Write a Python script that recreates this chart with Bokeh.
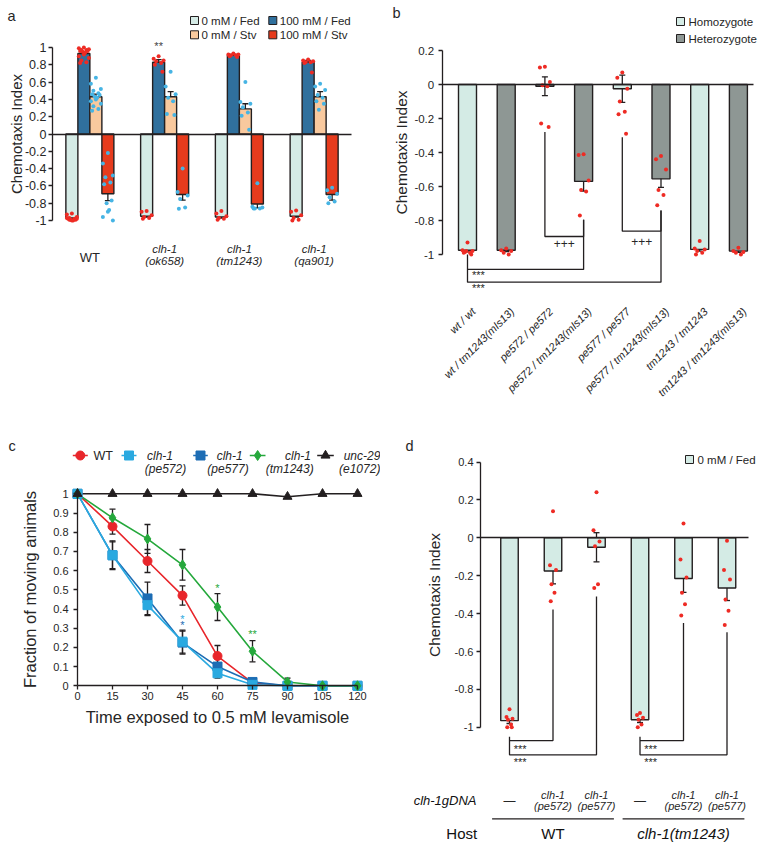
import math
from bokeh.plotting import figure
from bokeh.layouts import row, column
from bokeh.models import Range1d, LinearAxis, FixedTicker, ColumnDataSource, Whisker, TeeHead
from bokeh.core.properties import value
from bokeh.embed import file_html
from bokeh.resources import INLINE

FONT = "Liberation Sans"
INK = "#231f20"
TXT = "#262626"
RED_DOT = "#ee2b24"
BLUE_DOT = "#46b4e4"

# ============================ DATA ============================
# ---- panel a : chemotaxis of clh-1 alleles (4 conditions)
a_strain_line1 = ["WT", "clh-1", "clh-1", "clh-1"]
a_strain_line2 = ["", "(ok658)", "(tm1243)", "(qa901)"]
a_conditions = ["0 mM / Fed", "100 mM / Fed", "0 mM / Stv", "100 mM / Stv"]
a_colors = ["#d5ebe6", "#30709d", "#f9c99e", "#e63b1d"]
a_mean_fed0 = [-0.97, -0.95, -0.96, -0.95]
a_mean_fed100 = [0.93, 0.83, 0.91, 0.83]
a_mean_stv0 = [0.43, 0.43, 0.29, 0.43]
a_mean_stv100 = [-0.69, -0.70, -0.81, -0.70]
a_sem_fed0 = [0.01, 0.012, 0.012, 0.012]
a_sem_fed100 = [0.02, 0.03, 0.01, 0.02]
a_sem_stv0 = [0.03, 0.06, 0.06, 0.06]
a_sem_stv100 = [0.08, 0.065, 0.045, 0.065]
a_pts_fed0 = [
    [-0.92, -0.93, -0.96, -0.97, -0.98, -0.98, -0.99, -0.99, -1.0, -1.0, -0.97, -0.98, -0.99],
    [-0.89, -0.90, -0.94, -0.96, -0.97, -0.98],
    [-0.89, -0.92, -0.95, -0.97, -0.98, -0.99],
    [-0.885, -0.90, -0.94, -0.97, -0.99, -1.0],
]
a_pts_fed100 = [
    [1.0, 0.99, 0.98, 0.97, 0.97, 0.96, 0.96, 0.95, 0.94, 0.92, 0.90, 0.88, 0.85, 0.83, 0.82],
    [0.90, 0.87, 0.85, 0.84, 0.82, 0.80, 0.72],
    [0.93, 0.92, 0.92, 0.91, 0.91, 0.90, 0.89],
    [0.86, 0.85, 0.84, 0.83, 0.83, 0.82, 0.71],
]
a_pts_stv0 = [
    [0.65, 0.58, 0.52, 0.50, 0.47, 0.46, 0.45, 0.43, 0.42, 0.40, 0.38, 0.35, 0.32, 0.29, 0.27],
    [0.72, 0.55, 0.46, 0.42, 0.38, 0.23, 0.22],
    [0.60, 0.37, 0.35, 0.31, 0.25, 0.21, 0.05],
    [0.58, 0.55, 0.51, 0.45, 0.42, 0.38, 0.35, 0.28],
]
a_pts_stv100 = [
    [-0.22, -0.34, -0.48, -0.50, -0.56, -0.58, -0.77, -0.80, -0.88, -0.90, -0.96, -1.0],
    [-0.40, -0.67, -0.71, -0.75, -0.85, -0.865],
    [-0.57, -0.84, -0.85, -0.86, -0.86, -0.86],
    [-0.62, -0.65, -0.69, -0.73, -0.78, -0.80],
]
a_stars_fed100 = ["", "**", "", ""]
a_ticks = [-1, -0.8, -0.6, -0.4, -0.2, 0, 0.2, 0.4, 0.6, 0.8, 1]
a_tick_labels = ["-1", "-0.8", "-0.6", "-0.4", "-0.2", "0", "0.2", "0.4", "0.6", "0.8", "1"]

# ---- panel b : complementation (homo / heterozygotes)
b_genotypes = ["wt / wt", "wt / tm1243(mIs13)", "pe572 / pe572", "pe572 / tm1243(mIs13)",
               "pe577 / pe577", "pe577 / tm1243(mIs13)", "tm1243 / tm1243", "tm1243 / tm1243(mIs13)"]
b_kind = ["Homozygote", "Heterozygote", "Homozygote", "Heterozygote",
          "Homozygote", "Heterozygote", "Homozygote", "Heterozygote"]
b_kinds = ["Homozygote", "Heterozygote"]
b_kind_colors = ["#d4ebe5", "#8e9794"]
b_mean = [-0.975, -0.975, -0.01, -0.57, -0.025, -0.555, -0.97, -0.98]
b_sem = [0.01, 0.008, 0.055, 0.057, 0.08, 0.05, 0.01, 0.008]
b_pts = [
    [-0.93, -0.975, -0.98, -0.985, -0.99, -0.99, -1.0, -0.98],
    [-0.965, -0.975, -0.98, -0.99, -1.0],
    [0.105, 0.10, 0.015, -0.005, -0.01, -0.23, -0.25],
    [-0.41, -0.415, -0.565, -0.62, -0.63, -0.77],
    [0.07, 0.04, -0.025, -0.10, -0.16, -0.175, -0.29],
    [-0.42, -0.44, -0.50, -0.62, -0.65, -0.71],
    [-0.92, -0.965, -0.97, -0.98, -0.99, -1.0],
    [-0.96, -0.98, -0.985, -0.99, -1.0],
]
b_ticks = [-1, -0.8, -0.6, -0.4, -0.2, 0, 0.2]
b_tick_labels = ["-1", "-0.8", "-0.6", "-0.4", "-0.2", "0", "0.2"]

# ---- panel c : levamisole time course
c_time = [0, 15, 30, 45, 60, 75, 90, 105, 120]
c_name_line1 = ["WT", "clh-1", "clh-1", "clh-1", "unc-29"]
c_name_line2 = ["", "(pe572)", "(pe577)", "(tm1243)", "(e1072)"]
c_wt = [1.0, 0.83, 0.65, 0.47, 0.155, 0.015, 0.0, 0.0, 0.0]
c_wt_err = [0, 0.04, 0.06, 0.05, 0.055, 0, 0, 0, 0]
c_pe572 = [1.0, 0.68, 0.42, 0.23, 0.065, 0.005, 0.0, 0.0, 0.0]
c_pe572_err = [0, 0.07, 0.055, 0.06, 0.025, 0, 0, 0, 0]
c_pe577 = [1.0, 0.68, 0.455, 0.225, 0.10, 0.02, 0.0, 0.0, 0.0]
c_pe577_err = [0, 0.075, 0.085, 0.06, 0.04, 0, 0, 0, 0]
c_tm1243 = [1.0, 0.875, 0.765, 0.63, 0.41, 0.18, 0.02, 0.0, 0.0]
c_tm1243_err = [0, 0.045, 0.075, 0.08, 0.07, 0.055, 0.02, 0, 0]
c_unc29 = [1.0, 1.0, 1.0, 1.0, 1.0, 1.0, 0.985, 1.0, 1.0]
c_colors = ["#e8262b", "#2aa9e0", "#1d6db4", "#25a83c", "#231f20"]
c_markers = ["circle", "square", "square", "diamond", "triangle"]
c_x_ticks = [0, 15, 30, 45, 60, 75, 90, 105, 120]
c_x_tick_labels = ["0", "15", "30", "45", "60", "75", "90", "105", "120"]
c_y_ticks = [0, 0.1, 0.2, 0.3, 0.4, 0.5, 0.6, 0.7, 0.8, 0.9, 1]
c_y_tick_labels = ["0", "0.1", "0.2", "0.3", "0.4", "0.5", "0.6", "0.7", "0.8", "0.9", "1"]
# significance marks: (series index, time, text, height)
c_marks = [(3, 60, "*", 0.51), (3, 75, "**", 0.27), (1, 45, "*", 0.35), (2, 45, "*", 0.315)]

# ---- panel d : rescue with clh-1 gDNA
d_gdna_line1 = ["—", "clh-1", "clh-1", "—", "clh-1", "clh-1"]
d_gdna_line2 = ["", "(pe572)", "(pe577)", "", "(pe572)", "(pe577)"]
d_hosts = ["WT", "clh-1(tm1243)"]
d_mean = [-0.965, -0.175, -0.05, -0.96, -0.215, -0.265]
d_sem = [0.015, 0.068, 0.077, 0.015, 0.073, 0.066]
d_pts = [
    [-0.905, -0.945, -0.955, -0.96, -0.985, -1.0, -1.0],
    [0.14, -0.145, -0.17, -0.245, -0.29, -0.335],
    [0.24, 0.04, -0.02, -0.045, -0.245, -0.265],
    [-0.925, -0.935, -0.95, -0.96, -0.985, -1.0],
    [0.075, -0.115, -0.21, -0.29, -0.35, -0.41],
    [-0.015, -0.17, -0.22, -0.325, -0.385, -0.46],
]
d_ticks = [-1, -0.8, -0.6, -0.4, -0.2, 0, 0.2, 0.4]
d_tick_labels = ["-1", "-0.8", "-0.6", "-0.4", "-0.2", "0", "0.2", "0.4"]
d_legend = "0 mM / Fed"
d_color = "#d4ebe5"


# ============================ HELPERS ============================
class Panel:
    """A figure whose frame fills the whole canvas; x0/y0 = pixel of data origin, sx/sy = px per unit."""
    def __init__(self, fx, fy, w, h, x0, sx, y0, sy):
        self.x0, self.sx, self.y0, self.sy = x0, sx, y0, sy
        p = figure(width=w, height=h,
                   x_range=Range1d(self.X(fx), self.X(fx + w)),
                   y_range=Range1d(self.Y(fy + h), self.Y(fy)),
                   x_axis_type=None, y_axis_type=None,
                   output_backend="svg", toolbar_location=None,
                   min_border=0, outline_line_color=None)
        p.min_border_left = p.min_border_right = p.min_border_top = p.min_border_bottom = 0
        p.background_fill_color = "white"
        p.border_fill_color = "white"
        self.p = p

    def X(self, px):
        return (px - self.x0) / self.sx

    def Y(self, py):
        return (self.y0 - py) / self.sy

    def dx(self, dpx):
        return dpx / self.sx

    def dy(self, dpx):
        return dpx / self.sy

    def text(self, xs, ys, texts, size, align="left", baseline="middle", style="normal",
             color=TXT, angle=0.0):
        self.p.text(x=list(xs), y=list(ys), text=list(texts), text_font=value(FONT),
                    text_font_size=f"{size}px", text_font_style=style, text_align=align,
                    text_baseline=baseline, text_color=color, angle=angle)

    def yaxis(self, loc, bounds, ticks, labels, title, tick_size, title_size,
              label_standoff, title_standoff):
        ax = LinearAxis(fixed_location=loc, bounds=bounds, ticker=FixedTicker(ticks=ticks),
                        major_label_overrides={t: l for t, l in zip(ticks, labels)},
                        axis_label=title)
        self._style(ax, tick_size, title_size, label_standoff, title_standoff)
        self.p.add_layout(ax, "left")
        return ax

    def xaxis(self, loc, bounds, ticks, labels, title, tick_size, title_size,
              label_standoff, title_standoff):
        ax = LinearAxis(fixed_location=loc, bounds=bounds, ticker=FixedTicker(ticks=ticks),
                        major_label_overrides={t: l for t, l in zip(ticks, labels)},
                        axis_label=title)
        self._style(ax, tick_size, title_size, label_standoff, title_standoff)
        self.p.add_layout(ax, "below")
        return ax

    def _style(self, ax, tick_size, title_size, label_standoff, title_standoff):
        ax.axis_line_color = INK
        ax.axis_line_width = 1.3
        ax.major_tick_line_color = INK
        ax.major_tick_line_width = 1.3
        ax.major_tick_out = 4
        ax.major_tick_in = 0
        ax.minor_tick_line_color = None
        ax.major_label_text_font = FONT
        ax.major_label_text_font_size = f"{tick_size}px"
        ax.major_label_text_color = TXT
        ax.major_label_standoff = label_standoff
        ax.axis_label_text_font = FONT
        ax.axis_label_text_font_style = "normal"
        ax.axis_label_text_font_size = f"{title_size}px"
        ax.axis_label_text_color = TXT
        ax.axis_label_standoff = title_standoff

    def baseline(self, y, x_start, x_end):
        ax = LinearAxis(fixed_location=y, bounds=(x_start, x_end), ticker=FixedTicker(ticks=[]))
        ax.axis_line_color = INK
        ax.axis_line_width = 1.3
        ax.major_tick_line_color = None
        ax.minor_tick_line_color = None
        ax.major_label_text_font_size = "0px"
        self.p.add_layout(ax, "below")

    def whiskers(self, xs, lo, hi, head=6, color=INK):
        src = ColumnDataSource(dict(base=list(xs), lower=list(lo), upper=list(hi)))
        w = Whisker(source=src, base="base", lower="lower", upper="upper",
                    line_color=color, line_width=1.3,
                    upper_head=TeeHead(size=head, line_color=color, line_width=1.3),
                    lower_head=TeeHead(size=head, line_color=color, line_width=1.3))
        self.p.add_layout(w)


JITTER = [0, -1, 1, -0.5, 0.5, -0.75, 0.75, -0.25, 0.25]


def jittered(P, center, n, spread_px):
    return [center + P.dx(JITTER[k % len(JITTER)] * spread_px) for k in range(n)]


# ============================ PANEL A ============================
A = Panel(0, 0, 380, 403, 52, 74.75, 133.5, 86.5)
pa = A.p
a_means = [a_mean_fed0, a_mean_fed100, a_mean_stv0, a_mean_stv100]
a_sems = [a_sem_fed0, a_sem_fed100, a_sem_stv0, a_sem_stv100]
a_pts = [a_pts_fed0, a_pts_fed100, a_pts_stv0, a_pts_stv100]
a_dot_colors = [RED_DOT, RED_DOT, BLUE_DOT, BLUE_DOT]
a_bar_w = A.dx(12)
a_offsets = [(k - 1.5) * a_bar_w for k in range(4)]
for k in range(4):
    xs = [i + 0.5 + a_offsets[k] for i in range(len(a_strain_line1))]
    pa.vbar(x=xs, top=a_means[k], bottom=0, width=a_bar_w, fill_color=a_colors[k],
            line_color=INK, line_width=1.4)
for k in range(4):
    for i in range(len(a_strain_line1)):
        cx = i + 0.5 + a_offsets[k]
        ys = a_pts[k][i]
        pa.scatter(x=jittered(A, cx, len(ys), 5), y=ys, size=4, color=a_dot_colors[k], line_width=0)
for k in range(4):
    xs = [i + 0.5 + a_offsets[k] for i in range(len(a_strain_line1))]
    A.whiskers(xs, [m - s for m, s in zip(a_means[k], a_sems[k])],
               [m + s for m, s in zip(a_means[k], a_sems[k])], head=6)
A.baseline(0, 0, len(a_strain_line1))
A.yaxis(0, (-1, 1), a_ticks, a_tick_labels, "Chemotaxis Index", 12.5, 15, 2, -3)
for i, s in enumerate(a_stars_fed100):
    if s:
        A.text([i + 0.5 + a_offsets[1]], [a_mean_fed100[i] + a_sem_fed100[i] + A.dy(14)], [s], 11,
               align="center", color="#444444")
for i in range(len(a_strain_line1)):
    if a_strain_line2[i]:
        A.text([i + 0.5], [A.Y(248.3)], [a_strain_line1[i]], 11.5, align="center", style="italic")
        A.text([i + 0.5], [A.Y(260)], [a_strain_line2[i]], 11.5, align="center", style="italic")
    else:
        A.text([i + 0.5], [A.Y(256.7)], [a_strain_line1[i]], 13, align="center")
a_leg_px = [(194, 20), (272.3, 20), (194, 34.3), (272.3, 34.3)]
for k, (lx, ly) in enumerate(a_leg_px):
    pa.scatter(x=[A.X(lx)], y=[A.Y(ly)], marker="square", size=8, fill_color=a_colors[k],
               line_color=INK, line_width=1)
    A.text([A.X(lx + 7)], [A.Y(ly)], [a_conditions[k]], 11.5)
A.text([A.X(7)], [A.Y(15)], ["a"], 14.5)

# ============================ PANEL B ============================
B = Panel(380, 0, 377, 403, 447.65, 38.7, 84, 170)
pb = B.p
b_x = [i + 0.5 for i in range(len(b_genotypes))]
b_fill = [b_kind_colors[b_kinds.index(k)] for k in b_kind]
b_w = B.dx(18)
pb.vbar(x=b_x, top=b_mean, bottom=0, width=b_w, fill_color=b_fill, line_color=INK, line_width=1.4)
for i, ys in enumerate(b_pts):
    pb.scatter(x=jittered(B, b_x[i], len(ys), 5), y=ys, size=4, color=RED_DOT, line_width=0)
B.whiskers(b_x, [m - s for m, s in zip(b_mean, b_sem)], [m + s for m, s in zip(b_mean, b_sem)], head=6)
B.baseline(0, B.X(441.7), B.X(753))
B.yaxis(B.X(441.7), (-1, 0.2), b_ticks, b_tick_labels, "Chemotaxis Index", 11.5, 15.5, 4, 2)
b_brackets = [
    ([2, 2, 3, 3], [-0.28, -0.894, -0.894, -0.795]),
    ([4, 4, 5, 5], [-0.31, -0.863, -0.863, -0.741]),
    ([0, 0, 5, 5], [-1.0, -1.163, -1.163, -0.741]),
    ([0, 3, 3], [-1.088, -1.088, -0.795]),
]
pb.multi_line(xs=[[b_x[j] for j in bx] for bx, _ in b_brackets], ys=[by for _, by in b_brackets],
              line_color=INK, line_width=1.3)
B.text([(b_x[2] + b_x[3]) / 2, (b_x[4] + b_x[5]) / 2], [-0.935, -0.922], ["+++", "+++"], 12, align="center")
B.text([b_x[0] + B.dx(4.5)] * 2, [-1.118, -1.198], ["***", "***"], 11)
B.text([x + B.dx(6) for x in b_x], [B.Y(309)] * len(b_x), b_genotypes, 11, align="right",
       style="italic", angle=math.pi / 4)
for k, (lx, ly) in enumerate([(680, 21), (680, 38)]):
    pb.scatter(x=[B.X(lx)], y=[B.Y(ly)], marker="square", size=8, fill_color=b_kind_colors[k],
               line_color=INK, line_width=1)
    B.text([B.X(lx + 8)], [B.Y(ly)], [b_kinds[k]], 11.5)
B.text([B.X(392)], [B.Y(12)], ["b"], 14.5)

# ============================ PANEL C ============================
C = Panel(0, 403, 380, 442, 77, 280 / 120, 685.3, 192)
pc = C.p
c_series = [(c_wt, c_wt_err), (c_pe572, c_pe572_err), (c_pe577, c_pe577_err),
            (c_tm1243, c_tm1243_err), (c_unc29, [0] * len(c_time))]
c_sizes = [9, 9, 9, 10, 9]
C.xaxis(0, (0, 120), c_x_ticks, c_x_tick_labels, "Time exposed to 0.5 mM levamisole", 11, 16.5, 2, 5)
C.yaxis(0, (0, 1), c_y_ticks, c_y_tick_labels, "Fraction of moving animals", 11, 16.5, 5, 11)
draw_order = [0, 2, 1, 3, 4]
for k in draw_order:
    vals, errs = c_series[k]
    pc.line(x=c_time, y=vals, line_color=c_colors[k], line_width=1.6)
for k in draw_order:
    vals, errs = c_series[k]
    idx = [i for i, e in enumerate(errs) if e > 0]
    if idx:
        C.whiskers([c_time[i] for i in idx], [vals[i] - errs[i] for i in idx],
                   [vals[i] + errs[i] for i in idx], head=6)
for k in draw_order:
    vals, errs = c_series[k]
    pc.scatter(x=c_time, y=vals, marker=c_markers[k], size=c_sizes[k], fill_color=c_colors[k],
               line_color=c_colors[k], line_width=1)
for k, t, s, hgt in c_marks:
    C.text([t], [hgt], [s], 11, align="center", color=c_colors[k])
c_leg = [(72.3, 87.3, 93, None), (121, 136, 159.5, 165), (192.7, 207.3, 229.2, 227.5),
         (249.3, 265, 297.5, 289.2), (316.7, 333.3, 361.5, 359.2)]
for k, (l0, l1, t1, t2) in enumerate(c_leg):
    yy = C.Y(455)
    pc.line(x=[C.X(l0), C.X(l1)], y=[yy, yy], line_color=c_colors[k], line_width=1.6)
    pc.scatter(x=[C.X((l0 + l1) / 2)], y=[yy], marker=c_markers[k], size=c_sizes[k],
               fill_color=c_colors[k], line_color=c_colors[k])
    if t2 is None:
        C.text([C.X(t1)], [yy], [c_name_line1[k]], 12.5)
    else:
        C.text([C.X(t1)], [yy], [c_name_line1[k]], 12, align="center", style="italic")
        C.text([C.X(t2)], [C.Y(468.3)], [c_name_line2[k]], 12, align="center", style="italic")
C.text([C.X(8)], [C.Y(445)], ["c"], 14.5)

# ============================ PANEL D ============================
D = Panel(380, 403, 377, 442, 487.25, 43.5, 537.3, 189.5)
pd_ = D.p
d_x = [i + 0.5 for i in range(len(d_mean))]
d_w = D.dx(17.5)
pd_.vbar(x=d_x, top=d_mean, bottom=0, width=d_w, fill_color=d_color, line_color=INK, line_width=1.4)
for i, ys in enumerate(d_pts):
    pd_.scatter(x=jittered(D, d_x[i], len(ys), 3), y=ys, size=4, color=RED_DOT, line_width=0)
D.whiskers(d_x, [m - s for m, s in zip(d_mean, d_sem)], [m + s for m, s in zip(d_mean, d_sem)], head=6)
D.baseline(0, D.X(480), D.X(748))
D.yaxis(D.X(480), (-1, 0.4), d_ticks, d_tick_labels, "Chemotaxis Index", 11, 15.5, 3, 9)
d_brackets = [
    ([0, 0, 2, 2], [-1.05, -1.145, -1.145, -0.31]),
    ([0, 1, 1], [-1.07, -1.07, -0.378]),
    ([3, 3, 5, 5], [-1.05, -1.145, -1.145, -0.498]),
    ([3, 4, 4], [-1.07, -1.07, -0.45]),
]
pd_.multi_line(xs=[[d_x[j] for j in bx] for bx, _ in d_brackets], ys=[by for _, by in d_brackets],
               line_color=INK, line_width=1.3)
for g in (0, 3):
    D.text([d_x[g] + D.dx(4.3)] * 2, [-1.112, -1.182], ["***", "***"], 11)
D.text([D.X(476)], [D.Y(800)], ["clh-1gDNA"], 13, align="right", style="italic", color="#111111")
for i in range(len(d_x)):
    if d_gdna_line2[i]:
        D.text([d_x[i]], [D.Y(794)], [d_gdna_line1[i]], 11, align="center", style="italic")
        D.text([d_x[i]], [D.Y(805.5)], [d_gdna_line2[i]], 11, align="center", style="italic")
    else:
        D.text([d_x[i]], [D.Y(800)], [d_gdna_line1[i]], 12, align="center")
pd_.multi_line(xs=[[d_x[0] - 0.4, d_x[2] + 0.4], [d_x[3] - 0.4, d_x[5] + 0.4]],
               ys=[[D.Y(818.3)] * 2, [D.Y(818.3)] * 2], line_color=INK, line_width=1.3)
D.text([D.X(476.7)], [D.Y(833)], ["Host"], 15, align="right", color="#111111")
D.text([d_x[1]], [D.Y(833)], [d_hosts[0]], 15, align="center", color="#111111")
D.text([d_x[4]], [D.Y(833)], [d_hosts[1]], 15, align="center", style="italic", color="#111111")
pd_.scatter(x=[D.X(689)], y=[D.Y(459)], marker="square", size=8, fill_color=d_color,
            line_color=INK, line_width=1)
D.text([D.X(697)], [D.Y(459)], [d_legend], 11.5)
D.text([D.X(405)], [D.Y(445)], ["d"], 14.5)

layout = row(column(pa, pc), column(pb, pd_))
open("out.html", "w").write(file_html(layout, INLINE))
